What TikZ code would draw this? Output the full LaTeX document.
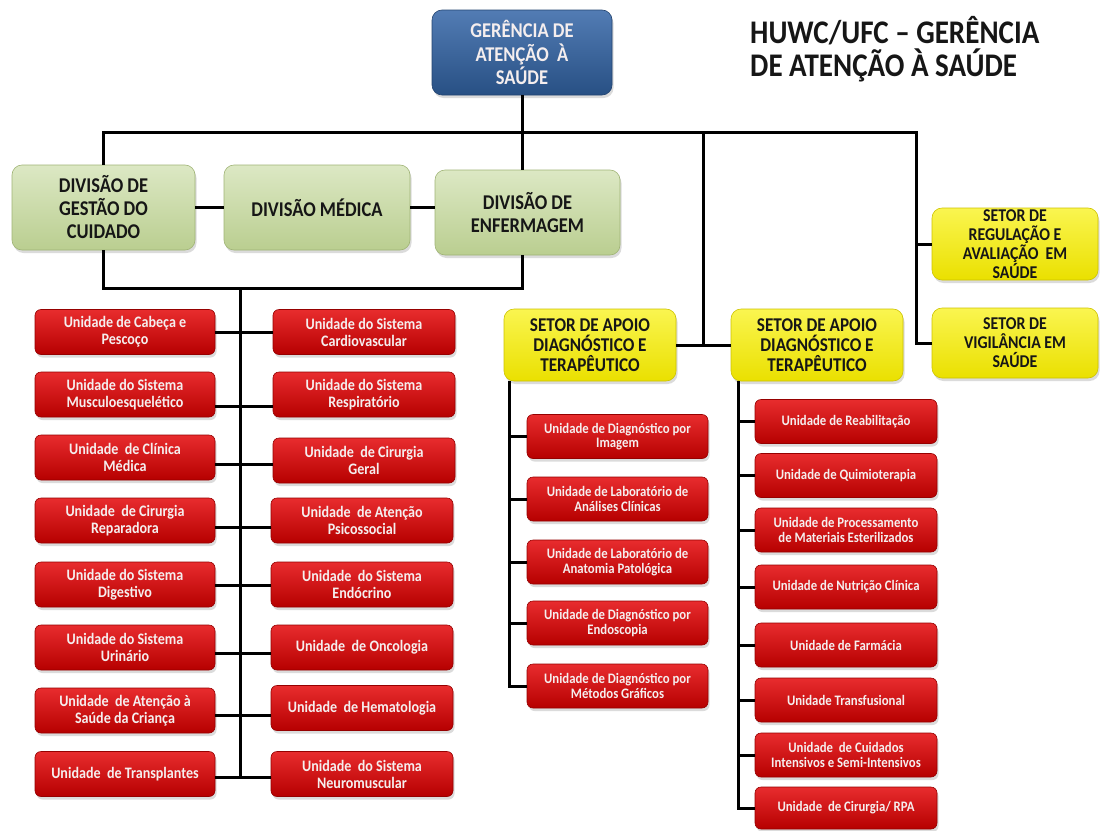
\documentclass[tikz,border=0pt]{standalone}
\usepackage{fontspec}
\setmainfont{Carlito}[FakeStretch=0.88]
\usetikzlibrary{shadows}

\definecolor{redtop}{RGB}{232,44,46}
\definecolor{redbot}{RGB}{182,0,0}
\definecolor{redline}{RGB}{150,0,0}
\definecolor{grntop}{RGB}{220,232,196}
\definecolor{grnbot}{RGB}{186,206,144}
\definecolor{grnline}{RGB}{160,180,118}
\definecolor{yeltop}{RGB}{250,245,80}
\definecolor{yelbot}{RGB}{234,224,0}
\definecolor{yelline}{RGB}{205,195,0}
\definecolor{blutop}{RGB}{82,124,180}
\definecolor{blubot}{RGB}{40,80,132}
\definecolor{bluline}{RGB}{35,68,112}
\definecolor{inkdark}{RGB}{22,22,22}
\definecolor{txtlight}{RGB}{245,238,238}

\tikzset{
  box/.style={rounded corners=8pt, align=center, inner sep=0pt, line width=0.6pt,
    drop shadow={shadow xshift=1.5pt, shadow yshift=-3pt, opacity=0.28}},
  bluebox/.style={box, rounded corners=10pt, draw=bluline, top color=blutop, bottom color=blubot,
    text=txtlight, minimum width=180pt, minimum height=85pt,
    font=\fontsize{21}{23.5}\selectfont\bfseries},
  divbox/.style={box, rounded corners=10pt, draw=grnline, top color=grntop, bottom color=grnbot,
    text=inkdark, minimum height=85pt, font=\fontsize{21}{23}\selectfont\bfseries},
  setorbox/.style={box, rounded corners=10pt, draw=yelline, top color=yeltop, bottom color=yelbot,
    text=inkdark, minimum width=172pt, minimum height=72pt,
    font=\fontsize{19.5}{20}\selectfont\bfseries},
  setorside/.style={setorbox, minimum width=166pt, font=\fontsize{18}{19}\selectfont\bfseries},
  unitbox/.style={box, rounded corners=6pt, draw=redline, top color=redtop, bottom color=redbot,
    text=txtlight, minimum height=45pt, font=\fontsize{16}{17}\selectfont\bfseries},
  unitleft/.style={unitbox, minimum width=180pt},
  unitright/.style={unitbox, minimum width=182pt},
  unitsmall/.style={unitbox, minimum width=181pt, minimum height=44pt,
    font=\fontsize{14.5}{14.7}\selectfont\bfseries},
  conn/.style={line width=3pt, black},
  titletext/.style={anchor=base west, inner sep=0pt, text=inkdark,
    font=\fontsize{33}{33}\selectfont\bfseries}
}

\begin{document}
\begin{tikzpicture}[x=1pt, y=-1pt]
\useasboundingbox[fill=white] (0,0) rectangle (1100,830);

% heading
\node[titletext] (t1) at (750,43) {HUWC/UFC – GERÊNCIA};
\node[titletext] (t2) at (750,76) {DE ATENÇÃO À SAÚDE};

% management and divisions
\node[bluebox] (g) at (522,52.5) {GERÊNCIA DE\\ATENÇÃO \ À\\SAÚDE};
\node[divbox, minimum width=183pt] (d1) at (103.5,207.5) {DIVISÃO DE\\GESTÃO DO\\CUIDADO};
\node[divbox, minimum width=186pt] (d2) at (317,207.5) {DIVISÃO MÉDICA};
\node[divbox, minimum width=185pt] (d3) at (527.5,212.5) {DIVISÃO DE\\ENFERMAGEM};

% sectors
\node[setorbox] (s1) at (590,345) {SETOR DE APOIO\\DIAGNÓSTICO E\\TERAPÊUTICO};
\node[setorbox] (s2) at (817,345) {SETOR DE APOIO\\DIAGNÓSTICO E\\TERAPÊUTICO};
\node[setorside] (reg) at (1015,244) {SETOR DE\\REGULAÇÃO E\\AVALIAÇÃO \ EM\\SAÚDE};
\node[setorside, minimum height=70pt] (vig) at (1015,343) {SETOR DE\\VIGILÂNCIA EM\\SAÚDE};

% units under the divisions
\node[unitleft]  (l1) at (125,332)   {Unidade de Cabeça e\\Pescoço};
\node[unitright] (r1) at (364,332)   {Unidade do Sistema\\Cardiovascular};
\node[unitleft]  (l2) at (125,394.5) {Unidade do Sistema\\Musculoesquelético};
\node[unitright] (r2) at (364,394.5) {Unidade do Sistema\\Respiratório};
\node[unitleft]  (l3) at (125,457.5) {Unidade \ de Clínica\\Médica};
\node[unitright] (r3) at (364,460.5) {Unidade \ de Cirurgia\\Geral};
\node[unitleft]  (l4) at (125,520.5) {Unidade \ de Cirurgia\\Reparadora};
\node[unitright] (r4) at (362,520.5) {Unidade \ de Atenção\\Psicossocial};
\node[unitleft]  (l5) at (125,584.5) {Unidade do Sistema\\Digestivo};
\node[unitright] (r5) at (362,584.5) {Unidade \ do Sistema\\Endócrino};
\node[unitleft]  (l6) at (125,647.5) {Unidade do Sistema\\Urinário};
\node[unitright] (r6) at (362,647.5) {Unidade \ de Oncologia};
\node[unitleft]  (l7) at (125,710.5) {Unidade \ de Atenção à\\Saúde da Criança};
\node[unitright] (r7) at (362,708)   {Unidade \ de Hematologia};
\node[unitleft]  (l8) at (125,774)   {Unidade \ de Transplantes};
\node[unitright] (r8) at (362,774)   {Unidade \ do Sistema\\Neuromuscular};

% units under the first support sector
\node[unitsmall] (a1) at (617.5,436.5) {Unidade de Diagnóstico por\\Imagem};
\node[unitsmall] (a2) at (617.5,499)   {Unidade de Laboratório de\\Análises Clínicas};
\node[unitsmall] (a3) at (617.5,562)   {Unidade de Laboratório de\\Anatomia Patológica};
\node[unitsmall] (a4) at (617.5,623)   {Unidade de Diagnóstico por\\Endoscopia};
\node[unitsmall] (a5) at (617.5,686)   {Unidade de Diagnóstico por\\Métodos Gráficos};

% units under the second support sector
\node[unitsmall, minimum width=182pt] (b1) at (846,421.5) {Unidade de Reabilitação};
\node[unitsmall, minimum width=182pt] (b2) at (846,475.5) {Unidade de Quimioterapia};
\node[unitsmall, minimum width=182pt] (b3) at (846,530)   {Unidade de Processamento\\de Materiais Esterilizados};
\node[unitsmall, minimum width=182pt] (b4) at (846,587)   {Unidade de Nutrição Clínica};
\node[unitsmall, minimum width=182pt] (b5) at (846,645)   {Unidade de Farmácia};
\node[unitsmall, minimum width=182pt] (b6) at (846,700)   {Unidade Transfusional};
\node[unitsmall, minimum width=182pt] (b7) at (846,755)   {Unidade \ de Cuidados\\Intensivos e Semi-Intensivos};
\node[unitsmall, minimum width=182pt, minimum height=42pt] (b8) at (846,808) {Unidade \ de Cirurgia/ RPA};

% junction points of the connector lines
\coordinate (busM) at (703,132);
\coordinate (busR) at (916,132);
\coordinate (low)  at (240,288);
\coordinate (sa)   at (509,381);
\coordinate (sb)   at (738,381);
\coordinate (c1) at (240,332);
\coordinate (c2) at (240,406);
\coordinate (c3) at (240,464);
\coordinate (c4) at (240,527);
\coordinate (c5) at (240,585);
\coordinate (c6) at (240,653);
\coordinate (c7) at (240,715);
\coordinate (c8) at (240,777);

% upper bus
\draw[conn] (g.south) -- (g.south |- d3.north);
\draw[conn] (d1.north) |- (busR) |- (vig.west);
\draw[conn] (busR |- reg.west) -- (reg.west);
\draw[conn] (busM) -- (busM |- s1.east);
\draw[conn] (s1.east) -- (s2.west);

% links between the divisions
\draw[conn] (d1.east) -- (d2.west);
\draw[conn] (d2.east) -- (d3.west |- d2.east);

% lower bus and trunk
\draw[conn] (d1.south) |- (g.south |- low) -- (g.south |- d3.south);
\draw[conn] (low) -- (c8);
\foreach \i in {1,...,8}{
  \draw[conn] (l\i.east |- c\i) -- (r\i.west |- c\i);
}

% branches of the support sectors
\draw[conn] (sa) |- (a5.west);
\foreach \i in {1,...,4}{ \draw[conn] (sa |- a\i.west) -- (a\i.west); }
\draw[conn] (sb) |- (b8.west);
\foreach \i in {1,...,7}{ \draw[conn] (sb |- b\i.west) -- (b\i.west); }
\end{tikzpicture}
\end{document}
